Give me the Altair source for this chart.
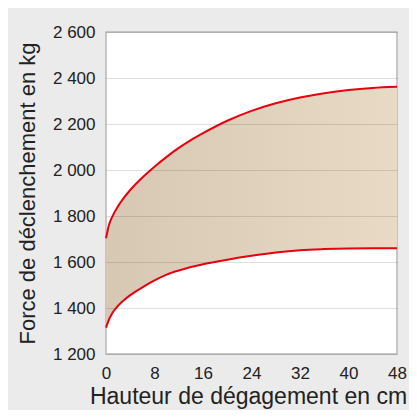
import altair as alt
import pandas as pd

# Data
hauteur_max = [0, 0.5, 1, 2, 3, 4, 6, 8, 10, 12, 14, 16, 20, 24, 28, 32, 36, 40, 44, 48]
force_max = [1703, 1762, 1795, 1843, 1881, 1913, 1967, 2014, 2057, 2096, 2130, 2160, 2214, 2257, 2290, 2315, 2334, 2348, 2357, 2362]
hauteur_min = [0, 0.5, 1, 2, 3, 4, 6, 8, 10, 12, 14, 16, 20, 24, 28, 32, 36, 40, 44, 48]
force_min = [1315, 1350, 1376, 1410, 1435, 1456, 1490, 1520, 1545, 1563, 1578, 1590, 1610, 1627, 1641, 1651, 1656, 1659, 1660, 1660]
x_ticks = [0, 8, 16, 24, 32, 40, 48]
y_ticks = [1200, 1400, 1600, 1800, 2000, 2200, 2400, 2600]

df_hi = pd.DataFrame({"x": hauteur_max, "hi": force_max})
df_lo = pd.DataFrame({"x": hauteur_min, "lo": force_min})
df_band = pd.DataFrame({"x": hauteur_max, "hi": force_max, "lo": force_min})

RED = "#e8000f"
FONT = "Liberation Sans"
TXT = "#222222"

xs = alt.Scale(domain=[0, 48], nice=False, zero=False)
ys = alt.Scale(domain=[1200, 2600], nice=False, zero=False)

xaxis = alt.Axis(
    values=x_ticks, title="Hauteur de dégagement en cm", grid=False, ticks=False,
    domain=False, labelPadding=11, labelFontSize=17, labelFont=FONT, labelColor=TXT,
    labelFlush=False,
    titleFontSize=23, titleFont=FONT, titleFontWeight="normal", titleColor=TXT,
    titleX=142, titleY=49, titleBaseline="alphabetic", titleAlign="center",
)
yaxis = alt.Axis(
    values=y_ticks, title="Force de déclenchement en kg", grid=True, ticks=False,
    domain=False, labelPadding=11, labelFontSize=17, labelFont=FONT, labelColor=TXT,
    labelFlush=False,
    labelExpr="replace(format(datum.value, ','), ',', ' ')",
    gridColor="#000000", gridOpacity=0.12, gridWidth=1.2, zindex=1,
    titleFontSize=22, titleFont=FONT, titleFontWeight="normal", titleColor=TXT,
    titleX=-72, titleY=161, titleAngle=-90, titleBaseline="alphabetic", titleAlign="center",
)

area = alt.Chart(df_band).mark_area(
    interpolate="monotone",
    color=alt.Gradient(
        gradient="linear",
        stops=[alt.GradientStop(color="#d7c8b4", offset=0),
               alt.GradientStop(color="#e9dac5", offset=1)],
        x1=0, x2=1, y1=0, y2=0,
    ),
).encode(
    x=alt.X("x:Q", scale=xs, axis=xaxis),
    y=alt.Y("hi:Q", scale=ys, axis=yaxis),
    y2="lo:Q",
)

line_hi = alt.Chart(df_hi).mark_line(interpolate="monotone", color=RED, strokeWidth=2).encode(
    x=alt.X("x:Q", scale=xs), y=alt.Y("hi:Q", scale=ys)
)
line_lo = alt.Chart(df_lo).mark_line(interpolate="monotone", color=RED, strokeWidth=2).encode(
    x=alt.X("x:Q", scale=xs), y=alt.Y("lo:Q", scale=ys)
)

chart = alt.layer(area, line_hi, line_lo).properties(
    width=291, height=322,
    autosize=alt.AutoSizeParams(type="none"),
    padding={"left": 98, "top": 24, "right": 12, "bottom": 56},
    background="#ebebeb",
).configure_view(fill="#ffffff", stroke="#b8b8b8", strokeWidth=1.5)

chart.save("out.html", embed_options={"renderer": "svg", "actions": False})
